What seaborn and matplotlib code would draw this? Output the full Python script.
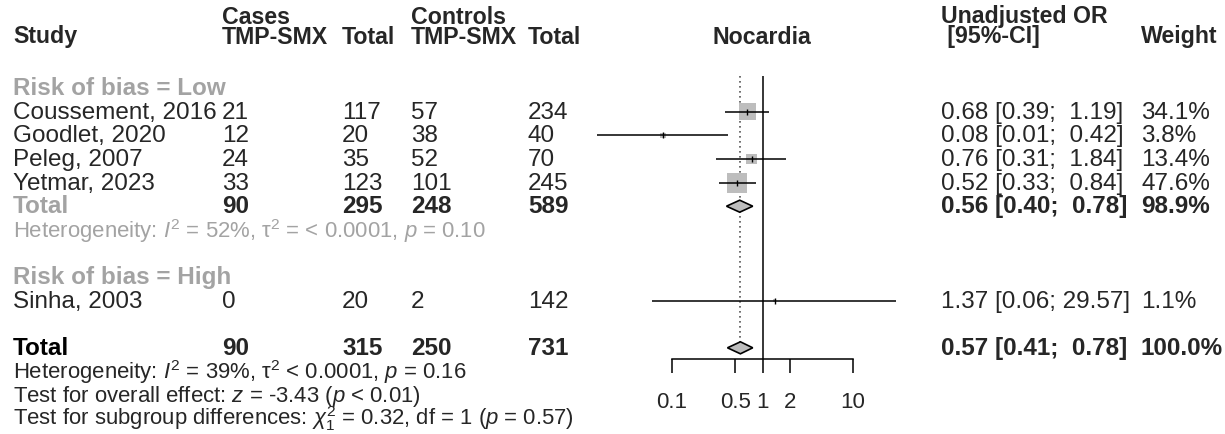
import numpy as np
import pandas as pd
import matplotlib
matplotlib.use("Agg")
import matplotlib.pyplot as plt
import seaborn as sns

# ---------------- data ----------------
studies = ["Coussement, 2016", "Goodlet, 2020", "Peleg, 2007", "Yetmar, 2023", "Sinha, 2003"]
subgroup = ["Low", "Low", "Low", "Low", "High"]
cases_tmp = [21, 12, 24, 33, 0]
cases_total = [117, 20, 35, 123, 20]
ctrl_tmp = [57, 38, 52, 101, 2]
ctrl_total = [234, 40, 70, 245, 142]
odds_ratio = [0.68, 0.08, 0.76, 0.52, 1.37]
ci_low = [0.39, 0.01, 0.31, 0.33, 0.06]
ci_high = [1.19, 0.42, 1.84, 0.84, 29.57]
weight = [34.1, 3.8, 13.4, 47.6, 1.1]
ci_text = ["0.68 [0.39;  1.19]", "0.08 [0.01;  0.42]", "0.76 [0.31;  1.84]",
           "0.52 [0.33;  0.84]", "1.37 [0.06; 29.57]"]
weight_text = ["34.1%", "3.8%", "13.4%", "47.6%", "1.1%"]
# CI lower bound drawn for Goodlet (plot uses unrounded value)
ci_low_plot = [0.39, 0.0148, 0.31, 0.33, 0.06]

low_total = dict(cases=90, cases_n=295, ctrl=248, ctrl_n=589, est=0.56, lo=0.40, hi=0.78,
                 ci="0.56 [0.40;  0.78]", w="98.9%")
all_total = dict(cases=90, cases_n=315, ctrl=250, ctrl_n=731, est=0.57, lo=0.41, hi=0.78,
                 ci="0.57 [0.41;  0.78]", w="100.0%")
ticks = [0.1, 0.5, 1, 2, 10]
tick_labels = ["0.1", "0.5", "1", "2", "10"]

het_low = r"Heterogeneity: $I^2$ = 52%, τ$^2$ = < 0.0001, $p$ = 0.10"
het_all = r"Heterogeneity: $I^2$ = 39%, τ$^2$ < 0.0001, $p$ = 0.16"
test_all = r"Test for overall effect: $z$ = -3.43 ($p$ < 0.01)"
test_sub = r"Test for subgroup differences: $\chi^2_1$ = 0.32, df = 1 ($p$ = 0.57)"

# ---------------- style ----------------
sns.set_theme(style="white")
plt.rcParams["font.family"] = ["Liberation Sans", "DejaVu Sans"]
plt.rcParams["mathtext.fontset"] = "custom"
plt.rcParams["mathtext.rm"] = "Liberation Sans"
plt.rcParams["mathtext.it"] = "Liberation Sans:italic"
plt.rcParams["mathtext.bf"] = "Liberation Sans:bold"

W, H = 1225, 434
fig = plt.figure(figsize=(W / 100, H / 100), dpi=100)
fig.patch.set_facecolor("white")

FS = 17.5
FS_HEAD = 16.7
FS_HET = 15.9
GRAY = "#a3a3a3"
SQ = "#bdbdbd"

# text axes in pixel coordinates
tx = fig.add_axes([0, 0, 1, 1])
tx.set_xlim(0, W)
tx.set_ylim(H, 0)
tx.axis("off")

BASE, STEP = 118.8, 23.6
def bl(r):
    return BASE + STEP * r

X_STUDY, X_CASE, X_CASEN, X_CTRL, X_CTRLN, X_OR, X_W = 13, 222, 342, 411, 528, 941, 1141
X_NOC = 762

# header
H1, H2 = 23.5, 43.5
hk = dict(fontsize=FS_HEAD, fontweight="bold", va="baseline")
tx.text(X_STUDY, H2, "Study", **hk)
tx.text(X_CASE, H1, "Cases", **hk)
tx.text(X_CASE, H2, "TMP-SMX", **hk)
tx.text(X_CASEN, H2, "Total", **hk)
tx.text(X_CTRL, H1, "Controls", **hk)
tx.text(X_CTRL, H2, "TMP-SMX", **hk)
tx.text(X_CTRLN, H2, "Total", **hk)
tx.text(X_NOC, H2, "Nocardia", ha="center", **hk)
tx.text(X_OR, H1, "Unadjusted OR", **hk)
tx.text(X_OR, H2, " [95%-CI]", **hk)
tx.text(X_W, H2, "Weight", **hk)

study_rows = [0, 1, 2, 3, 8]
tx.text(X_STUDY, bl(-1), "Risk of bias = Low", fontsize=FS, fontweight="bold", color=GRAY, va="baseline")
tx.text(X_STUDY, bl(7), "Risk of bias = High", fontsize=FS, fontweight="bold", color=GRAY, va="baseline")
for i, r in enumerate(study_rows):
    y = bl(r)
    tx.text(X_STUDY, y, studies[i], fontsize=FS, va="baseline")
    tx.text(X_CASE, y, str(cases_tmp[i]), fontsize=FS, va="baseline")
    tx.text(X_CASEN, y, str(cases_total[i]), fontsize=FS, va="baseline")
    tx.text(X_CTRL, y, str(ctrl_tmp[i]), fontsize=FS, va="baseline")
    tx.text(X_CTRLN, y, str(ctrl_total[i]), fontsize=FS, va="baseline")
    tx.text(X_OR, y, ci_text[i], fontsize=FS, va="baseline")
    tx.text(X_W, y, weight_text[i], fontsize=FS, va="baseline")

def total_row(r, d, label_color):
    y = bl(r)
    tx.text(X_STUDY, y, "Total", fontsize=FS, fontweight="bold", color=label_color, va="baseline")
    tx.text(X_CASE, y, str(d["cases"]), fontsize=FS, fontweight="bold", va="baseline")
    tx.text(X_CASEN, y, str(d["cases_n"]), fontsize=FS, fontweight="bold", va="baseline")
    tx.text(X_CTRL, y, str(d["ctrl"]), fontsize=FS, fontweight="bold", va="baseline")
    tx.text(X_CTRLN, y, str(d["ctrl_n"]), fontsize=FS, fontweight="bold", va="baseline")
    tx.text(X_OR, y, d["ci"], fontsize=FS, fontweight="bold", va="baseline")
    tx.text(X_W, y, d["w"], fontsize=FS, fontweight="bold", va="baseline")

total_row(4, low_total, GRAY)
total_row(10, all_total, "black")
tx.text(X_STUDY, 238, het_low, fontsize=FS_HET, color=GRAY, va="baseline")
tx.text(X_STUDY, 379, het_all, fontsize=FS_HET, va="baseline")
tx.text(X_STUDY, 402, test_all, fontsize=FS_HET, va="baseline")
tx.text(X_STUDY, 425, test_sub, fontsize=FS_HET, va="baseline")

# ---------------- forest axes ----------------
AX_L, AX_W = 581.5, 326.0
AX_TOP, AX_BOT = 60.0, 359.0
fx = fig.add_axes([AX_L / W, (H - AX_BOT) / H, AX_W / W, (AX_BOT - AX_TOP) / H])
fx.set_xscale("log")
fx.set_xlim(0.01, 40)
fx.set_ylim(AX_BOT, AX_TOP)
fx.patch.set_alpha(0)
for s in ["top", "left", "right"]:
    fx.spines[s].set_visible(False)
fx.spines["bottom"].set_bounds(0.1, 10)
fx.spines["bottom"].set_linewidth(1.1)
fx.spines["bottom"].set_color("black")
fx.set_xticks(ticks)
fx.set_xticklabels(tick_labels)
fx.minorticks_off()
fx.set_yticks([])
fx.tick_params(axis="x", direction="out", length=10, width=1.1, color="black",
               labelsize=16, pad=14, bottom=True)

MARK_OFF = 7
ymark = [bl(r) - MARK_OFF for r in study_rows]
df = pd.DataFrame({"study": studies, "or": odds_ratio, "lo": ci_low_plot, "hi": ci_high,
                   "w": weight, "y": ymark})

# reference lines
fx.vlines(1, 76, AX_BOT, color="black", lw=1.1, zorder=1)
fx.vlines(all_total["est"], 76, bl(10) - MARK_OFF - 6, color="#555555", lw=1.2,
          linestyles=(0, (1, 2)), zorder=1)

# squares sized by weight
side_px = 2.9 * np.sqrt(df["w"].to_numpy())
sns.scatterplot(data=df, x="or", y="y", marker="s", s=(side_px * 0.72) ** 2,
                color=SQ, linewidth=0, ax=fx, zorder=2, legend=False)
fx.hlines(df["y"], df["lo"], df["hi"], color="black", lw=1.1, zorder=3)
fx.scatter(df["or"], df["y"], marker="|", s=22, color="black", linewidths=1.0, zorder=4)

def diamond(d, y, hh=6):
    fx.fill([d["lo"], d["est"], d["hi"], d["est"]], [y, y - hh, y, y + hh],
            facecolor=SQ, edgecolor="black", lw=1.2, zorder=3)

diamond(low_total, bl(4) - MARK_OFF)
diamond(all_total, bl(10) - MARK_OFF)
fx.set_xlabel("")
fx.set_ylabel("")

fig.savefig("out.png", dpi=100, facecolor="white")
